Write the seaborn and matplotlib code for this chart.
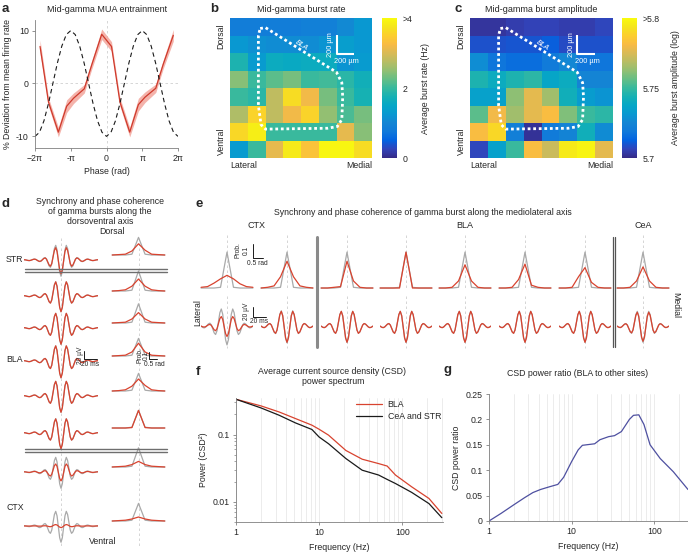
import numpy as np
import matplotlib
matplotlib.use('Agg')
import matplotlib.pyplot as plt
from matplotlib.lines import Line2D
from matplotlib.colors import LinearSegmentedColormap
from matplotlib.ticker import LogLocator, NullFormatter
import seaborn as sns

# ---------------- data ----------------
# a: MUA entrainment
mua_phase = [-5.84, -5.1, -4.23, -3.5, -2.9, -1.95, -1.3, -0.42, 0.44, 1.18, 2.04, 2.8, 3.38, 4.33, 4.98, 5.87]
mua_dev = [7.0, -3.5, -9.2, -4.3, -2.8, -1.0, 3.5, 9.3, 7.0, -3.5, -9.2, -4.0, -2.6, -0.9, 3.6, 9.1]
mua_err = [1.2, 0.8, 0.9, 1.2, 1.0, 0.8, 0.8, 1.0, 0.9, 0.8, 0.9, 1.2, 1.0, 0.8, 0.8, 1.1]
ref_cos = [-10, -9.24, -7.07, -3.83, 0, 3.83, 7.07, 9.24, 10, 9.24, 7.07, 3.83, 0, -3.83, -7.07, -9.24,
           -10, -9.24, -7.07, -3.83, 0, 3.83, 7.07, 9.24, 10, 9.24, 7.07, 3.83, 0, -3.83, -7.07, -9.24, -10]

# b: burst rate (Hz), rows dorsal->ventral, cols lateral->medial
rate_grid = [
    [0.85, 0.85, 0.85, 0.85, 0.9, 0.9, 1.05, 1.25],
    [1.25, 1.15, 1.1, 1.1, 1.1, 1.2, 1.35, 1.25],
    [1.8, 1.3, 1.6, 1.55, 1.6, 1.6, 1.2, 1.3],
    [2.45, 2.0, 2.2, 2.35, 2.0, 2.05, 1.9, 1.7],
    [2.0, 1.9, 2.8, 3.65, 3.2, 2.35, 2.0, 1.75],
    [2.7, 3.55, 2.8, 3.2, 3.55, 2.5, 2.1, 2.35],
    [3.6, 3.85, 2.0, 2.0, 2.0, 2.0, 3.1, 2.45],
    [1.3, 2.0, 3.1, 3.8, 3.35, 3.95, 3.95, 3.65],
]
# c: burst amplitude (log)
amp_grid = [
    [5.703, 5.703, 5.705, 5.706, 5.706, 5.705, 5.705, 5.707],
    [5.709, 5.709, 5.710, 5.710, 5.712, 5.708, 5.709, 5.709],
    [5.728, 5.718, 5.716, 5.716, 5.720, 5.726, 5.718, 5.718],
    [5.745, 5.740, 5.745, 5.748, 5.737, 5.740, 5.725, 5.725],
    [5.735, 5.735, 5.762, 5.777, 5.765, 5.742, 5.733, 5.730],
    [5.755, 5.780, 5.765, 5.777, 5.782, 5.760, 5.750, 5.748],
    [5.782, 5.790, 5.722, 5.702, 5.720, 5.724, 5.742, 5.727],
    [5.707, 5.735, 5.750, 5.782, 5.772, 5.795, 5.798, 5.777],
]
bla_outline_x = [1.7, 2.0, 6.0, 6.3, 6.35, 6.3, 6.05, 5.5, 2.0, 1.75, 1.6, 1.6, 1.7]
bla_outline_y = [0.6, 0.55, 3.1, 3.7, 4.5, 5.8, 6.2, 6.3, 6.35, 6.1, 5.0, 1.0, 0.6]

# d / e: average gamma burst waveform (normalised) and phase histograms
burst_template = [0.02, 0.011, -0.01, -0.031, -0.04, -0.025, 0.01, 0.045, 0.06, 0.037, -0.02, -0.077,
                  -0.1, -0.063, 0.025, 0.114, 0.15, 0.062, -0.15, -0.362, -0.45, -0.253, 0.225, 0.703,
                  0.9, 0.623, -0.05, -0.723, -1.0, -0.723, -0.05, 0.623, 0.9, 0.703, 0.225, -0.253,
                  -0.45, -0.362, -0.15, 0.062, 0.15, 0.114, 0.025, -0.063, -0.1, -0.077, -0.02, 0.037,
                  0.06, 0.045, 0.01, -0.025, -0.04, -0.031, -0.01, 0.011, 0.02]
burst_ms = np.linspace(-63, 63, len(burst_template))
phase_bins = [-1.2, -0.9, -0.6, -0.3, 0, 0.3, 0.6, 0.9, 1.2]

d_wave_gray = [31, 30, 31, 32, 31, 30, 31, 31]
d_wave_red = [26, 30, 31, 32, 31, 30, 17, 3]
d_hist_gray_peak = [0.22, 0.25, 0.24, 0.22, 0.22, 0.22, 0.24, 0.22]
d_hist_red = [
    [0, 0.005, 0.01, 0.05, 0.14, 0.06, 0.01, 0.005, 0],
    [0, 0.005, 0.015, 0.06, 0.15, 0.06, 0.015, 0.005, 0],
    [0, 0.005, 0.01, 0.05, 0.13, 0.05, 0.01, 0.005, 0],
    [0, 0.005, 0.01, 0.05, 0.16, 0.05, 0.01, 0.005, 0],
    [0, 0.005, 0.015, 0.06, 0.15, 0.07, 0.015, 0.005, 0],
    [0, 0, 0, 0.005, 0.22, 0.005, 0, 0, 0],
    [0, 0.005, 0.01, 0.03, 0.07, 0.03, 0.01, 0.005, 0],
    [0, 0.005, 0.01, 0.025, 0.05, 0.025, 0.01, 0.005, 0],
]
e_wave_gray = [36, 32, 31, 31, 31, 31, 31, 31]
e_wave_red = [20, 31, 31, 31, 31, 31, 31, 29]
e_hist_gray_peak = [0.255, 0.255, 0.255, 0.255, 0.255, 0.255, 0.255, 0.255]
e_hist_red = [
    [0.005, 0.01, 0.035, 0.065, 0.09, 0.065, 0.03, 0.01, 0.005],
    [0, 0.005, 0.015, 0.08, 0.19, 0.08, 0.015, 0.005, 0],
    [0, 0, 0.005, 0.01, 0.19, 0.05, 0.005, 0, 0],
    [0, 0, 0, 0, 0.255, 0, 0, 0, 0],
    [0, 0, 0.005, 0.05, 0.165, 0.05, 0.005, 0, 0],
    [0, 0, 0.005, 0.06, 0.17, 0.02, 0.005, 0, 0],
    [0, 0, 0.005, 0.08, 0.145, 0.04, 0.005, 0, 0],
    [0, 0, 0.005, 0.05, 0.15, 0.05, 0.005, 0, 0],
]

# f: CSD power spectrum
csd_freq = [1, 2, 3.3, 5.2, 8.2, 10, 13, 21, 33, 52, 66, 83, 130, 210, 300]
csd_bla = [0.335, 0.267, 0.217, 0.173, 0.138, 0.12, 0.098, 0.058, 0.043, 0.037, 0.034, 0.025, 0.0167, 0.0112, 0.0067]
csd_other = [0.335, 0.249, 0.194, 0.149, 0.119, 0.092, 0.073, 0.044, 0.0295, 0.025, 0.0215, 0.0187, 0.0138, 0.0094, 0.0058]

# g: CSD power ratio
ratio_freq = [1, 1.4, 2, 2.7, 3.4, 4.2, 5.3, 6.8, 8, 10, 12, 13.5, 19, 22, 28, 33, 40, 50, 56, 65, 75, 89, 118, 170, 256]
ratio_val = [0, 0.015, 0.032, 0.046, 0.056, 0.062, 0.067, 0.072, 0.086, 0.117, 0.14, 0.149, 0.152, 0.16,
             0.166, 0.168, 0.176, 0.2, 0.208, 0.209, 0.19, 0.15, 0.123, 0.097, 0.062]

# ---------------- style ----------------
sns.set_theme(style='ticks')
plt.rcParams['font.family'] = ['Liberation Sans', 'DejaVu Sans']
plt.rcParams['font.size'] = 6.3

RED = '#d8432f'
GRAY = '#a9a9a9'
FS = 6.3
parula = LinearSegmentedColormap.from_list('parula', [
    (0.2081, 0.1663, 0.5292), (0.1959, 0.2645, 0.7279), (0.0117, 0.3875, 0.8820),
    (0.0629, 0.4737, 0.8554), (0.0793, 0.5200, 0.8312), (0.0343, 0.5966, 0.8199),
    (0.0228, 0.6535, 0.7768), (0.0843, 0.6928, 0.7062), (0.2178, 0.7250, 0.6193),
    (0.3953, 0.7459, 0.5244), (0.5709, 0.7485, 0.4494), (0.7184, 0.7411, 0.3905),
    (0.8507, 0.7299, 0.3360), (0.9739, 0.7314, 0.2666), (0.9880, 0.8066, 0.1794),
    (0.9589, 0.8949, 0.1132), (0.9763, 0.9831, 0.0538)])

W, H = 688, 553
fig = plt.figure(figsize=(W / 100, H / 100), dpi=100, facecolor='white')


def add_ax(x0, y0, x1, y1):
    return fig.add_axes([x0 / W, 1 - y1 / H, (x1 - x0) / W, (y1 - y0) / H])


def ftext(x, y, s, **kw):
    kw.setdefault('ha', 'center')
    kw.setdefault('va', 'center')
    kw.setdefault('fontsize', FS)
    fig.text(x / W, 1 - y / H, s, **kw)


def fline(xs, ys, **kw):
    kw.setdefault('color', 'k')
    kw.setdefault('lw', 0.7)
    fig.add_artist(Line2D([x / W for x in xs], [1 - y / H for y in ys], transform=fig.transFigure, **kw))


def style_axes(ax):
    for s in ['top', 'right']:
        ax.spines[s].set_visible(False)
    for s in ['left', 'bottom']:
        ax.spines[s].set_color('#808080')
        ax.spines[s].set_linewidth(0.6)
    ax.tick_params(which='major', length=2.5, width=0.6, color='#808080', labelsize=FS, pad=2)
    ax.tick_params(which='minor', length=1.5, width=0.5, color='#808080')


# panel letters
for letter, (lx, ly) in {'a': (2, 9), 'b': (210, 9), 'c': (455, 9), 'd': (2, 204),
                         'e': (196, 204), 'f': (196, 372), 'g': (444, 370)}.items():
    ftext(lx, ly, letter, fontsize=9.5, fontweight='bold', ha='left')

# ---------------- a ----------------
ax = add_ax(35, 20, 178, 148)
lo = np.array(mua_dev) - np.array(mua_err)
hi = np.array(mua_dev) + np.array(mua_err)
ax.axhline(0, color='#d0d0d0', ls=(0, (3, 3)), lw=0.6, zorder=0)
ax.axvline(0, color='#d0d0d0', ls=(0, (3, 3)), lw=0.6, zorder=0)
ax.fill_between(mua_phase, lo, hi, color='#f3a69c', lw=0, alpha=0.85)
sns.lineplot(x=mua_phase, y=mua_dev, ax=ax, color='#cf3a2c', lw=0.9)
sns.lineplot(x=np.linspace(-2 * np.pi, 2 * np.pi, len(ref_cos)), y=ref_cos, ax=ax,
             color='k', lw=0.8, linestyle=(0, (4, 3)))
ax.set_xlim(-2 * np.pi, 2 * np.pi)
ax.set_ylim(-12.2, 12)
ax.set_xticks([-2 * np.pi, -np.pi, 0, np.pi, 2 * np.pi])
ax.set_xticklabels(['\u22122\u03c0', '-\u03c0', '0', '\u03c0', '2\u03c0'])
ax.set_yticks([-10, 0, 10])
ax.set_yticklabels(['-10', '0', '10'])
style_axes(ax)
ax.set_xlabel('Phase (rad)', fontsize=FS, labelpad=3)
ax.set_ylabel('% Deviation from mean firing rate', fontsize=FS, labelpad=3)
ftext(107, 10, 'Mid-gamma MUA entrainment', fontsize=6.5)

# ---------------- b / c ----------------
def heat_panel(grid, x0, x1, cx0, vmin, vmax, ticks, ticklabels, clabel, lpad, title):
    hax = add_ax(x0, 18, x1, 158)
    cax = add_ax(cx0, 18, cx0 + 15, 158)
    sns.heatmap(np.array(grid), ax=hax, cmap=parula, vmin=vmin, vmax=vmax, cbar_ax=cax,
                xticklabels=False, yticklabels=False, linewidths=0)
    cbar = hax.collections[0].colorbar
    cbar.outline.set_visible(False)
    cbar.set_ticks(ticks)
    cbar.set_ticklabels(ticklabels)
    cbar.ax.tick_params(length=0, labelsize=FS, pad=4)
    cbar.set_label(clabel, fontsize=FS, labelpad=lpad)
    hax.plot(bla_outline_x, bla_outline_y, color='white', lw=2.0, linestyle=(0, (1, 1)))
    hax.plot([6.0, 6.0, 7.0], [0.95, 2.05, 2.05], color='white', lw=1.5, solid_capstyle='butt')
    hax.text(5.68, 1.5, '200 \u00b5m', color='white', rotation=90, fontsize=5.3, ha='center', va='center')
    hax.text(6.55, 2.5, '200 \u00b5m', color='white', fontsize=5.3, ha='center', va='center')
    hax.text(4.05, 1.55, 'BLA', color='white', rotation=-33, fontsize=5.3, ha='center', va='center',
             style='italic')
    hax.set_xlim(0, 8)
    hax.set_ylim(8, 0)
    hax.set_axis_off()
    ftext((x0 + x1) / 2, 10, title, fontsize=6.5)
    ftext(x0 - 9, 36, 'Dorsal', rotation=90)
    ftext(x0 - 9, 141, 'Ventral', rotation=90)
    ftext(x0, 166, 'Lateral', ha='left')
    ftext(x1, 166, 'Medial', ha='right')


heat_panel(rate_grid, 230, 372, 382, 0, 4, [0, 2, 4], ['0', '2', '>4'],
           'Average burst rate (Hz)', 6, 'Mid-gamma burst rate')
heat_panel(amp_grid, 470, 613, 622, 5.7, 5.8, [5.7, 5.75, 5.8], ['5.7', '5.75', '>5.8'],
           'Average burst amplitude (log)', 8, 'Mid-gamma burst amplitude')

# ---------------- d ----------------
tmpl = np.array(burst_template)
d_rows = [260, 296, 328, 361, 396, 433, 472, 526]
fline([61, 61], [238, 548], color='#cfcfcf', lw=0.6, ls=(0, (3, 3)), zorder=-1)
fline([138.5, 138.5], [238, 548], color='#cfcfcf', lw=0.6, ls=(0, (3, 3)), zorder=-1)
for r, cy in enumerate(d_rows):
    wax = add_ax(24, cy - 21, 98, cy + 21)
    sns.lineplot(x=burst_ms, y=tmpl * d_wave_gray[r], ax=wax, color=GRAY, lw=0.9)
    sns.lineplot(x=burst_ms, y=tmpl * d_wave_red[r], ax=wax, color=RED, lw=0.9)
    wax.set_xlim(-63, 63)
    wax.set_ylim(-40, 40)
    wax.set_axis_off()
    by = cy - 5
    hax_ = add_ax(110, by - 24, 167, by + 1)
    gray_hist = [0, 0, 0, 0.01, d_hist_gray_peak[r], 0.01, 0, 0, 0]
    sns.lineplot(x=phase_bins, y=gray_hist, ax=hax_, color=GRAY, lw=0.9)
    sns.lineplot(x=phase_bins, y=d_hist_red[r], ax=hax_, color=RED, lw=0.9)
    hax_.set_xlim(-1.3, 1.3)
    hax_.set_ylim(-0.0125, 0.3)
    hax_.set_axis_off()

for yy in (268.5, 271.5, 448.5, 451.5):
    fline([25, 167], [yy, yy], color='#6e6e6e', lw=1.0)
ftext(100, 201, 'Synchrony and phase coherence')
ftext(100, 211, 'of gamma bursts along the')
ftext(100, 221, 'dorsoventral axis')
ftext(112, 232, 'Dorsal')
ftext(103, 541, 'Ventral')
ftext(14, 260, 'STR')
ftext(15, 360, 'BLA')
ftext(15, 508, 'CTX')
fline([84, 84, 97], [351, 359, 359], lw=0.7)
ftext(80, 355, '20 \u00b5V', rotation=90, fontsize=4.8)
ftext(90, 364.5, '20 ms', fontsize=4.8)
fline([149, 149, 157], [352, 359, 359], lw=0.7)
ftext(140.5, 355, 'Prob.', rotation=90, fontsize=4.8)
ftext(146, 355, '0.1', rotation=90, fontsize=4.8)
ftext(154, 364.5, '0.5 rad', fontsize=4.8)

# ---------------- e ----------------
e_cols = [227, 287, 347, 406, 465, 525, 585, 643]
for k, cx in enumerate(e_cols):
    fline([cx, cx], [235, 290], color='#cfcfcf', lw=0.6, ls=(0, (3, 3)), zorder=-1)
    fline([cx, cx], [296, 348], color='#cfcfcf', lw=0.6, ls=(0, (3, 3)), zorder=-1)
    hx = add_ax(cx - 27, 250, cx + 27, 289)
    gray_hist = [0, 0, 0, 0.005, e_hist_gray_peak[k], 0.005, 0, 0, 0]
    sns.lineplot(x=phase_bins, y=gray_hist, ax=hx, color=GRAY, lw=0.9)
    sns.lineplot(x=phase_bins, y=e_hist_red[k], ax=hx, color=RED, lw=0.9)
    hx.set_xlim(-1.25, 1.25)
    hx.set_ylim(-0.007, 0.27)
    hx.set_axis_off()
    wx = add_ax(cx - 26, 305, cx + 26, 347)
    sns.lineplot(x=burst_ms, y=tmpl * e_wave_gray[k], ax=wx, color=GRAY, lw=0.9)
    sns.lineplot(x=burst_ms, y=tmpl * e_wave_red[k], ax=wx, color=RED, lw=0.9)
    wx.set_xlim(-41, 41)
    wx.set_ylim(-40, 40)
    wx.set_axis_off()

fline([316.5, 316.5], [237, 347], color='#8a8a8a', lw=2.2)
fline([612.5, 612.5], [237, 347], color='#555555', lw=0.9)
fline([615.3, 615.3], [237, 347], color='#555555', lw=0.9)
ftext(423, 213, 'Synchrony and phase coherence of gamma burst along the mediolateral axis')
ftext(257, 225, 'CTX', fontsize=6.5)
ftext(465, 225, 'BLA', fontsize=6.5)
ftext(643, 225, 'CeA', fontsize=6.5)
ftext(198, 313, 'Lateral', rotation=90)
ftext(676, 305, 'Medial', rotation=270)
fline([253, 253, 263], [244, 258, 258], lw=0.7)
ftext(238, 250, 'Prob.', rotation=90, fontsize=4.8)
ftext(246.5, 250, '0.1', rotation=90, fontsize=4.8)
ftext(257, 263.5, '0.5 rad', fontsize=4.8)
fline([253, 253, 266], [307, 317, 317], lw=0.7)
ftext(246.5, 311, '20 \u00b5V', rotation=90, fontsize=4.8)
ftext(259.5, 321.5, '20 ms', fontsize=4.8)

# ---------------- f ----------------
ax = add_ax(236, 398, 443, 522)
sns.lineplot(x=csd_freq, y=csd_bla, ax=ax, color=RED, lw=0.9, label='BLA')
sns.lineplot(x=csd_freq, y=csd_other, ax=ax, color='#1a1a1a', lw=0.9, label='CeA and STR')
ax.set_xscale('log')
ax.set_yscale('log')
ax.set_xlim(1, 310)
ax.set_ylim(0.005, 0.35)
ax.xaxis.set_minor_locator(LogLocator(subs=np.arange(2, 10)))
ax.xaxis.set_minor_formatter(NullFormatter())
ax.yaxis.set_minor_formatter(NullFormatter())
ax.set_xticks([1, 10, 100])
ax.set_xticklabels(['1', '10', '100'])
ax.set_yticks([0.01, 0.1])
ax.set_yticklabels(['0.01', '0.1'])
ax.grid(True, which='both', axis='x', color='#e4e4e4', lw=0.5)
style_axes(ax)
ax.tick_params(axis='x', which='minor', length=0)
ax.set_xlabel('Frequency (Hz)', fontsize=FS, labelpad=4)
ax.set_ylabel('Power (CSD\u00b2)', fontsize=FS, labelpad=3)
ax.legend(frameon=False, fontsize=FS, loc='upper left', bbox_to_anchor=(356 / W, 1 - 400 / H),
          bbox_transform=fig.transFigure, borderaxespad=0, borderpad=0, handlelength=3.0,
          handletextpad=0.6, labelspacing=0.35)
ftext(332, 372, 'Average current source density (CSD)')
ftext(333, 382, 'power spectrum')

# ---------------- g ----------------
ax = add_ax(489, 394, 688, 521)
sns.lineplot(x=ratio_freq, y=ratio_val, ax=ax, color='#4e50a0', lw=0.9)
ax.set_xscale('log')
ax.set_xlim(1, 256)
ax.set_ylim(0, 0.25)
ax.xaxis.set_minor_locator(LogLocator(subs=np.arange(2, 10)))
ax.xaxis.set_minor_formatter(NullFormatter())
ax.set_xticks([1, 10, 100])
ax.set_xticklabels(['1', '10', '100'])
ax.set_yticks([0, 0.05, 0.1, 0.15, 0.2, 0.25])
ax.set_yticklabels(['0', '0.05', '0.1', '0.15', '0.2', '0.25'])
ax.grid(True, which='both', axis='x', color='#e4e4e4', lw=0.5)
style_axes(ax)
ax.tick_params(axis='x', which='minor', length=0)
ax.set_xlabel('Frequency (Hz)', fontsize=FS, labelpad=4)
ax.set_ylabel('CSD power ratio', fontsize=FS, labelpad=3)
ftext(578, 374, 'CSD power ratio (BLA to other sites)')

fig.savefig('out.png', dpi=100, facecolor='white')
